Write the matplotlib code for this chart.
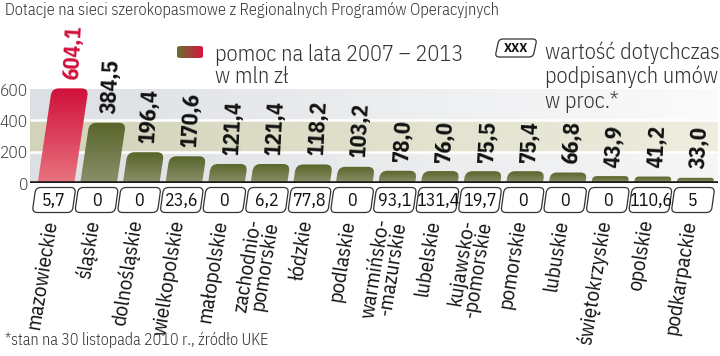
import numpy as np
import matplotlib
matplotlib.use("Agg")
import matplotlib.pyplot as plt
from matplotlib.path import Path
from matplotlib.patches import PathPatch, FancyBboxPatch
from matplotlib.transforms import Affine2D, ScaledTranslation
from matplotlib.colors import to_rgb

# ---------------- data ----------------
regions = ["mazowieckie", "śląskie", "dolnośląskie", "wielkopolskie", "małopolskie",
           "zachodnio-\npomorskie", "łódzkie", "podlaskie", "warmińsko-\n-mazurskie",
           "lubelskie", "kujawsko-\n-pomorskie", "pomorskie", "lubuskie",
           "świętokrzyskie", "opolskie", "podkarpackie"]
aid_mln = [604.1, 384.5, 196.4, 170.6, 121.4, 121.4, 118.2, 103.2,
           78.0, 76.0, 75.5, 75.4, 66.8, 43.9, 41.2, 33.0]
signed_pct = [5.7, 0, 0, 23.6, 0, 6.2, 77.8, 0, 93.1, 131.4, 19.7, 0, 0, 0, 110.6, 5]
yticks = [0, 200, 400, 600]

title = "Dotacje na sieci szerokopasmowe z Regionalnych Programów Operacyjnych"
legend_bar_lines = ["pomoc na lata 2007 – 2013", "w mln zł"]
legend_box_lines = ["wartość dotychczas", "podpisanych umów", "w proc.*"]
footnote = "*stan na 30 listopada 2010 r., źródło UKE"

FONT = ["IBM Plex Sans Condensed", "DejaVu Sans"]
plt.rcParams["font.family"] = FONT


def fmt_aid(v):
    return f"{v:.1f}".replace(".", ",")


def fmt_pct(v):
    if float(v).is_integer():
        return str(int(v))
    return f"{v:.1f}".replace(".", ",")


# ---------------- layout ----------------
W, H = 720, 356
fig = plt.figure(figsize=(W / 100, H / 100), dpi=100)
fig.patch.set_facecolor("white")

base_px, top600_px = 183, 89
ppu = (base_px - top600_px) / 600.0          # pixels per value unit
dx, x_first = 42.6, 56.0                     # pixels per category, first centre
ax_left_px, ax_right_px = 30, 718

ax = fig.add_axes([ax_left_px / W, (H - base_px) / H,
                   (ax_right_px - ax_left_px) / W, base_px / H])
ax.set_facecolor("none")
xmin = (ax_left_px - x_first) / dx
xmax = (ax_right_px - x_first) / dx
ymax = base_px / ppu

# background bands with horizontal fade
band_left = ["#dcdfe3", "#d2d3b9", "#dcdfe3"]
band_right = ["#f6f6f6", "#eeeddf", "#fbfbfb"]
N = 700
t = np.linspace(0, 1, N)
img = np.zeros((3, N, 3))
for k in range(3):
    l = np.array(to_rgb(band_left[k]))
    r = np.array(to_rgb(band_right[k]))
    img[k] = l[None, :] * (1 - t[:, None]) + r[None, :] * t[:, None]
ax.imshow(img, extent=(xmin, xmax, yticks[0], yticks[-1]), origin="lower",
          aspect="auto", interpolation="nearest", zorder=0)
ax.hlines(yticks[1:3], xmin, xmax, color="white", lw=1.8, zorder=1)

# bars (slightly slanted, rounded tops, vertical gradient)
bw = 0.86
k_skew = 0.15 * ppu / dx
r_px = 7.0


def bar_path(xc, v):
    s = k_skew * v
    x0, x1 = xc - bw / 2, xc + bw / 2
    ry = min(r_px / ppu, v * 0.6)
    rx = r_px / dx * (ry / (r_px / ppu))
    f = (v - ry) / v
    verts = [(x0, 0), (x1, 0), (x1 + s * f, v - ry), (x1 + s, v), (x1 + s - rx, v),
             (x0 + s + rx, v), (x0 + s, v), (x0 + s * f, v - ry), (x0, 0), (x0, 0)]
    codes = [Path.MOVETO, Path.LINETO, Path.LINETO, Path.CURVE3, Path.CURVE3,
             Path.LINETO, Path.CURVE3, Path.CURVE3, Path.LINETO, Path.CLOSEPOLY]
    return Path(verts, codes)


green_top, green_bot = to_rgb("#58652a"), to_rgb("#8b8f6a")
red_top, red_bot = to_rgb("#d0103a"), to_rgb("#e8737f")
M = 100
tt = np.linspace(0, 1, M)[:, None, None]

for i, v in enumerate(aid_mln):
    top, bot = (red_top, red_bot) if i == 0 else (green_top, green_bot)
    grad = np.array(bot)[None, None, :] * (1 - tt) + np.array(top)[None, None, :] * tt
    p = bar_path(i, v)
    patch = PathPatch(p, facecolor="none", edgecolor="none", zorder=2)
    ax.add_patch(patch)
    s = k_skew * v
    im = ax.imshow(grad, extent=(i - bw / 2, i + bw / 2 + s, 0, v), origin="lower",
                   aspect="auto", interpolation="bilinear", zorder=2)
    im.set_clip_path(patch)
    ax.annotate(fmt_aid(v), xy=(i + s, v), xytext=(2.5, 6), textcoords="offset points",
                rotation=87, ha="center", va="bottom", fontsize=16, fontweight="bold",
                color="#d0103a" if i == 0 else "#111111", zorder=5,
                annotation_clip=False)

ax.axhline(0, color="#1a1a1a", lw=2.6, zorder=4)
ax.set_xlim(xmin, xmax)
ax.set_ylim(0, ymax)

for sp in ax.spines.values():
    sp.set_visible(False)
ax.set_xticks([])
ax.set_yticks(yticks)
ax.set_yticklabels([str(y) for y in yticks], fontsize=12.5, fontweight=300, color="#444444")
ax.tick_params(axis="y", length=0, pad=1.5)

# signed-contract boxes and region labels
for i, (pct, name) in enumerate(zip(signed_pct, regions)):
    tr = (Affine2D().skew_deg(8, 0) + Affine2D().translate(-2, -17)
          + ScaledTranslation(i, 0, ax.transData))
    box = FancyBboxPatch((-20, -12.5), 40, 25, boxstyle="round,pad=0,rounding_size=5",
                         transform=tr, facecolor="white", edgecolor="#333333",
                         lw=0.9, clip_on=False, zorder=5)
    ax.add_patch(box)
    ax.annotate(fmt_pct(pct), xy=(i, 0), xytext=(-2 * 0.72, -17.5 * 0.72),
                textcoords="offset points", ha="center", va="center",
                fontsize=13, color="#111111", annotation_clip=False, zorder=6)
    ax.annotate(name, xy=(i, 0), xytext=(-5 * 0.72, -37 * 0.72),
                textcoords="offset points", ha="right", va="center",
                rotation=81, rotation_mode="anchor", multialignment="right",
                fontsize=15, color="#111111", linespacing=0.85,
                annotation_clip=False)

# title, legend, footnote
fig.text(5 / W, 1 - 2 / H, title, ha="left", va="top", fontsize=11.7,
         fontweight=300, color="#333333")

lax = fig.add_axes([177 / W, (H - 58) / H, 26 / W, 12 / H])
lg = np.zeros((1, 100, 3))
for j, tj in enumerate(np.linspace(0, 1, 100)):
    lg[0, j] = np.array(to_rgb("#667033")) * (1 - tj) + np.array(to_rgb("#d8163f")) * tj
lim = lax.imshow(lg, aspect="auto", extent=(0, 1, 0, 1))
clip = FancyBboxPatch((0, 0), 1, 1, boxstyle="round,pad=0,rounding_size=0.15",
                      transform=lax.transAxes, facecolor="none", edgecolor="none")
lax.add_patch(clip)
lim.set_clip_path(clip)
lax.axis("off")

for k, line in enumerate(legend_bar_lines):
    fig.text(215 / W, 1 - (61 + 22 * k) / H, line, ha="left", va="baseline",
             fontsize=16, fontweight=300, color="#333333")

trx = Affine2D().skew_deg(12, 0) + Affine2D().translate(516, H - 48)
xbox = FancyBboxPatch((-19, -9), 38, 18, boxstyle="round,pad=0,rounding_size=4",
                      transform=trx, facecolor="white", edgecolor="#333333", lw=0.9)
fig.patches.append(xbox)
fig.text(516 / W, (H - 48) / H, "XXX", ha="center", va="center", fontsize=9.5,
         fontweight="bold", color="#111111")
for k, line in enumerate(legend_box_lines):
    fig.text(545 / W, 1 - (59 + 24.5 * k) / H, line, ha="left", va="baseline",
             fontsize=16, fontweight=300, color="#333333")

fig.text(5 / W, 1 - 345 / H, footnote, ha="left", va="baseline", fontsize=11.5,
         fontweight=300, color="#333333")

fig.savefig("out.png", dpi=100, facecolor="white")
